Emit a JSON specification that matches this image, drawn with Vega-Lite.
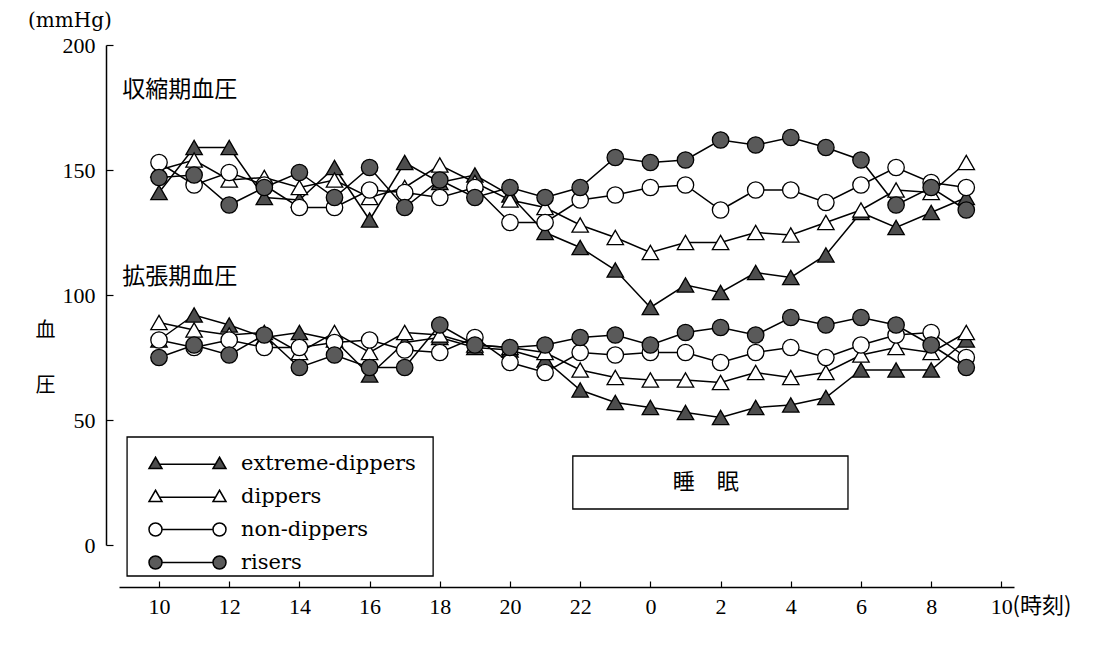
{
  "$schema": "https://vega.github.io/schema/vega-lite/v6.json",
  "width": 895,
  "height": 500,
  "autosize": {"type": "none"},
  "padding": {"left": 119, "top": 45, "right": 79, "bottom": 101},
  "background": "white",
  "title": {"text": "(mmHg)", "anchor": "start", "frame": "group", "dx": -91, "offset": 3, "font": "DejaVu Serif", "fontSize": 20, "fontWeight": "normal", "color": "black"},
  "config": {"view": {"stroke": null}, "axis": {"grid": false}},
  "resolve": {"scale": {"shape": "independent", "fill": "independent"}},
  "data": {"values": [
    {"bp": "sys", "h": 10, "extreme-dippers": 141, "dippers": 150, "non-dippers": 153, "risers": 147},
    {"bp": "sys", "h": 11, "extreme-dippers": 159, "dippers": 154, "non-dippers": 144, "risers": 148},
    {"bp": "sys", "h": 12, "extreme-dippers": 159, "dippers": 146, "non-dippers": 149, "risers": 136},
    {"bp": "sys", "h": 13, "extreme-dippers": 139, "dippers": 147, "non-dippers": 144, "risers": 143},
    {"bp": "sys", "h": 14, "extreme-dippers": 138, "dippers": 143, "non-dippers": 135, "risers": 149},
    {"bp": "sys", "h": 15, "extreme-dippers": 151, "dippers": 146, "non-dippers": 135, "risers": 139},
    {"bp": "sys", "h": 16, "extreme-dippers": 130, "dippers": 139, "non-dippers": 142, "risers": 151},
    {"bp": "sys", "h": 17, "extreme-dippers": 153, "dippers": 143, "non-dippers": 141, "risers": 135},
    {"bp": "sys", "h": 18, "extreme-dippers": 145, "dippers": 152, "non-dippers": 139, "risers": 146},
    {"bp": "sys", "h": 19, "extreme-dippers": 148, "dippers": 145, "non-dippers": 143, "risers": 139},
    {"bp": "sys", "h": 20, "extreme-dippers": 140, "dippers": 138, "non-dippers": 129, "risers": 143},
    {"bp": "sys", "h": 21, "extreme-dippers": 125, "dippers": 135, "non-dippers": 129, "risers": 139},
    {"bp": "sys", "h": 22, "extreme-dippers": 119, "dippers": 128, "non-dippers": 138, "risers": 143},
    {"bp": "sys", "h": 23, "extreme-dippers": 110, "dippers": 123, "non-dippers": 140, "risers": 155},
    {"bp": "sys", "h": 24, "extreme-dippers": 95, "dippers": 117, "non-dippers": 143, "risers": 153},
    {"bp": "sys", "h": 25, "extreme-dippers": 104, "dippers": 121, "non-dippers": 144, "risers": 154},
    {"bp": "sys", "h": 26, "extreme-dippers": 101, "dippers": 121, "non-dippers": 134, "risers": 162},
    {"bp": "sys", "h": 27, "extreme-dippers": 109, "dippers": 125, "non-dippers": 142, "risers": 160},
    {"bp": "sys", "h": 28, "extreme-dippers": 107, "dippers": 124, "non-dippers": 142, "risers": 163},
    {"bp": "sys", "h": 29, "extreme-dippers": 116, "dippers": 129, "non-dippers": 137, "risers": 159},
    {"bp": "sys", "h": 30, "extreme-dippers": 133, "dippers": 134, "non-dippers": 144, "risers": 154},
    {"bp": "sys", "h": 31, "extreme-dippers": 127, "dippers": 142, "non-dippers": 151, "risers": 136},
    {"bp": "sys", "h": 32, "extreme-dippers": 133, "dippers": 141, "non-dippers": 145, "risers": 143},
    {"bp": "sys", "h": 33, "extreme-dippers": 139, "dippers": 153, "non-dippers": 143, "risers": 134},
    {"bp": "dia", "h": 10, "extreme-dippers": 82, "dippers": 89, "non-dippers": 82, "risers": 75},
    {"bp": "dia", "h": 11, "extreme-dippers": 92, "dippers": 86, "non-dippers": 79, "risers": 80},
    {"bp": "dia", "h": 12, "extreme-dippers": 88, "dippers": 84, "non-dippers": 82, "risers": 76},
    {"bp": "dia", "h": 13, "extreme-dippers": 83, "dippers": 85, "non-dippers": 79, "risers": 84},
    {"bp": "dia", "h": 14, "extreme-dippers": 85, "dippers": 77, "non-dippers": 79, "risers": 71},
    {"bp": "dia", "h": 15, "extreme-dippers": 82, "dippers": 85, "non-dippers": 81, "risers": 76},
    {"bp": "dia", "h": 16, "extreme-dippers": 68, "dippers": 77, "non-dippers": 82, "risers": 71},
    {"bp": "dia", "h": 17, "extreme-dippers": 81, "dippers": 85, "non-dippers": 78, "risers": 71},
    {"bp": "dia", "h": 18, "extreme-dippers": 83, "dippers": 84, "non-dippers": 77, "risers": 88},
    {"bp": "dia", "h": 19, "extreme-dippers": 79, "dippers": 80, "non-dippers": 83, "risers": 80},
    {"bp": "dia", "h": 20, "extreme-dippers": 78, "dippers": 79, "non-dippers": 73, "risers": 79},
    {"bp": "dia", "h": 21, "extreme-dippers": 74, "dippers": 77, "non-dippers": 69, "risers": 80},
    {"bp": "dia", "h": 22, "extreme-dippers": 62, "dippers": 70, "non-dippers": 77, "risers": 83},
    {"bp": "dia", "h": 23, "extreme-dippers": 57, "dippers": 67, "non-dippers": 76, "risers": 84},
    {"bp": "dia", "h": 24, "extreme-dippers": 55, "dippers": 66, "non-dippers": 77, "risers": 80},
    {"bp": "dia", "h": 25, "extreme-dippers": 53, "dippers": 66, "non-dippers": 77, "risers": 85},
    {"bp": "dia", "h": 26, "extreme-dippers": 51, "dippers": 65, "non-dippers": 73, "risers": 87},
    {"bp": "dia", "h": 27, "extreme-dippers": 55, "dippers": 69, "non-dippers": 77, "risers": 84},
    {"bp": "dia", "h": 28, "extreme-dippers": 56, "dippers": 67, "non-dippers": 79, "risers": 91},
    {"bp": "dia", "h": 29, "extreme-dippers": 59, "dippers": 69, "non-dippers": 75, "risers": 88},
    {"bp": "dia", "h": 30, "extreme-dippers": 70, "dippers": 76, "non-dippers": 80, "risers": 91},
    {"bp": "dia", "h": 31, "extreme-dippers": 70, "dippers": 79, "non-dippers": 84, "risers": 88},
    {"bp": "dia", "h": 32, "extreme-dippers": 70, "dippers": 77, "non-dippers": 85, "risers": 80},
    {"bp": "dia", "h": 33, "extreme-dippers": 82, "dippers": 85, "non-dippers": 75, "risers": 71}
  ]},
  "layer": [
    {
      "data": {"values": [{}]},
      "mark": {"type": "rect", "fill": "white", "stroke": "black", "strokeWidth": 1.3},
      "encoding": {
        "x": {"datum": 9.09, "type": "quantitative"},
        "x2": {"datum": 17.81},
        "y": {"datum": 43.2, "type": "quantitative"},
        "y2": {"datum": -12.4}
      }
    },
    {
      "data": {"values": [{}]},
      "mark": {"type": "rect", "fill": "white", "stroke": "black", "strokeWidth": 1.3},
      "encoding": {
        "x": {"datum": 21.79, "type": "quantitative"},
        "x2": {"datum": 29.63},
        "y": {"datum": 35.6, "type": "quantitative"},
        "y2": {"datum": 14.4}
      }
    },
    {
      "data": {"values": [{"t": "睡　眠"}]},
      "mark": {"type": "text", "font": "Noto Sans CJK JP", "fontSize": 22, "color": "black", "align": "center", "baseline": "middle"},
      "encoding": {
        "x": {"datum": 25.58, "type": "quantitative"},
        "y": {"datum": 25.2, "type": "quantitative"},
        "text": {"field": "t"}
      }
    },
    {
      "data": {"values": [{"t": "収縮期血圧", "yy": 182}, {"t": "拡張期血圧", "yy": 107.2}]},
      "mark": {"type": "text", "font": "Noto Sans CJK JP", "fontSize": 23, "color": "black", "align": "left", "baseline": "middle"},
      "encoding": {
        "x": {"datum": 8.95, "type": "quantitative"},
        "y": {"field": "yy", "type": "quantitative"},
        "text": {"field": "t"}
      }
    },
    {
      "transform": [{"fold": ["extreme-dippers", "dippers", "non-dippers", "risers"], "as": ["s", "v"]}],
      "mark": {"type": "line", "stroke": "black", "strokeWidth": 1.5},
      "encoding": {
        "x": {"field": "h", "type": "quantitative"},
        "y": {"field": "v", "type": "quantitative"},
        "detail": [{"field": "s"}, {"field": "bp"}],
        "order": {"field": "h"}
      }
    },
    {
      "transform": [{"fold": ["extreme-dippers", "dippers", "non-dippers", "risers"], "as": ["s", "v"]}],
      "mark": {"type": "point", "filled": true, "stroke": "black", "strokeWidth": 1.3, "size": 270, "opacity": 1},
      "encoding": {
        "x": {
          "field": "h", "type": "quantitative",
          "scale": {"domain": [8.86, 34.36], "nice": false, "zero": false},
          "axis": {
            "title": "(時刻)", "titleX": 893, "titleY": 18, "titleAlign": "left", "titleBaseline": "middle", "titleAngle": 0,
            "titleFont": "Noto Sans CJK JP", "titleFontSize": 22, "titleFontWeight": "normal", "titleColor": "black",
            "values": [10, 12, 14, 16, 18, 20, 22, 24, 26, 28, 30, 32, 34],
            "labelExpr": "'' + (datum.value % 24)",
            "offset": 42, "tickSize": -6, "labelPadding": 15,
            "labelFont": "Liberation Serif", "labelFontSize": 22, "labelColor": "black",
            "domainColor": "black", "domainWidth": 1.5, "tickColor": "black", "tickWidth": 1.2
          }
        },
        "y": {
          "field": "v", "type": "quantitative",
          "scale": {"domain": [0, 200], "nice": false, "zero": false},
          "axis": {
            "title": ["血", "圧"], "titleAngle": 0, "titleX": -61, "titleY": 285, "titleAlign": "center", "titleBaseline": "middle",
            "titleLineHeight": 55, "titleFont": "Noto Sans CJK JP", "titleFontSize": 20, "titleFontWeight": "normal", "titleColor": "black",
            "values": [0, 50, 100, 150, 200],
            "offset": 13, "tickSize": -7, "labelPadding": 18,
            "labelFont": "Liberation Serif", "labelFontSize": 22, "labelColor": "black",
            "domainColor": "black", "domainWidth": 1.5, "tickColor": "black", "tickWidth": 1.2
          }
        },
        "shape": {
          "field": "s", "type": "nominal",
          "scale": {"domain": ["extreme-dippers", "dippers", "non-dippers", "risers"], "range": ["triangle-up", "triangle-up", "circle", "circle"]},
          "legend": null
        },
        "fill": {
          "field": "s", "type": "nominal",
          "scale": {"domain": ["extreme-dippers", "dippers", "non-dippers", "risers"], "range": ["#4d4d4d", "white", "white", "#5a5a5a"]},
          "legend": null
        }
      }
    },
    {
      "transform": [
        {"fold": ["extreme-dippers", "dippers", "non-dippers", "risers"], "as": ["s", "v"]},
        {"filter": "false"}
      ],
      "mark": {"type": "point", "filled": true, "stroke": "black", "strokeWidth": 1.3, "size": 100, "opacity": 1},
      "encoding": {
        "x": {"field": "h", "type": "quantitative"},
        "y": {"field": "v", "type": "quantitative"},
        "shape": {
          "field": "s", "type": "nominal",
          "scale": {"domain": ["extreme-dippers", "dippers", "non-dippers", "risers"], "range": [
            "M-6.4,-1.25L-5.1,1L-7.7,1Z M-5.59,0.15L5.59,0.15 M6.4,-1.25L7.7,1L5.1,1Z",
            "M-6.4,-1.25L-5.1,1L-7.7,1Z M-5.59,0.15L5.59,0.15 M6.4,-1.25L7.7,1L5.1,1Z",
            "M-5.1,0C-5.1,0.72 -5.68,1.3 -6.4,1.3C-7.12,1.3 -7.7,0.72 -7.7,0C-7.7,-0.72 -7.12,-1.3 -6.4,-1.3C-5.68,-1.3 -5.1,-0.72 -5.1,0Z M-5.1,0L5.1,0 M7.7,0C7.7,0.72 7.12,1.3 6.4,1.3C5.68,1.3 5.1,0.72 5.1,0C5.1,-0.72 5.68,-1.3 6.4,-1.3C7.12,-1.3 7.7,-0.72 7.7,0Z",
            "M-5.1,0C-5.1,0.72 -5.68,1.3 -6.4,1.3C-7.12,1.3 -7.7,0.72 -7.7,0C-7.7,-0.72 -7.12,-1.3 -6.4,-1.3C-5.68,-1.3 -5.1,-0.72 -5.1,0Z M-5.1,0L5.1,0 M7.7,0C7.7,0.72 7.12,1.3 6.4,1.3C5.68,1.3 5.1,0.72 5.1,0C5.1,-0.72 5.68,-1.3 6.4,-1.3C7.12,-1.3 7.7,-0.72 7.7,0Z"
          ]},
          "legend": {
            "orient": "none", "legendX": 58, "legendY": 408, "title": null, "padding": 0,
            "labelFont": "DejaVu Serif", "labelFontSize": 21, "labelColor": "black", "labelLimit": 0,
            "rowPadding": 11, "symbolSize": 100, "labelOffset": 43, "symbolOffset": 0
          }
        },
        "fill": {
          "field": "s", "type": "nominal",
          "scale": {"domain": ["extreme-dippers", "dippers", "non-dippers", "risers"], "range": ["#4d4d4d", "white", "white", "#5a5a5a"]},
          "legend": null
        }
      }
    }
  ]
}
